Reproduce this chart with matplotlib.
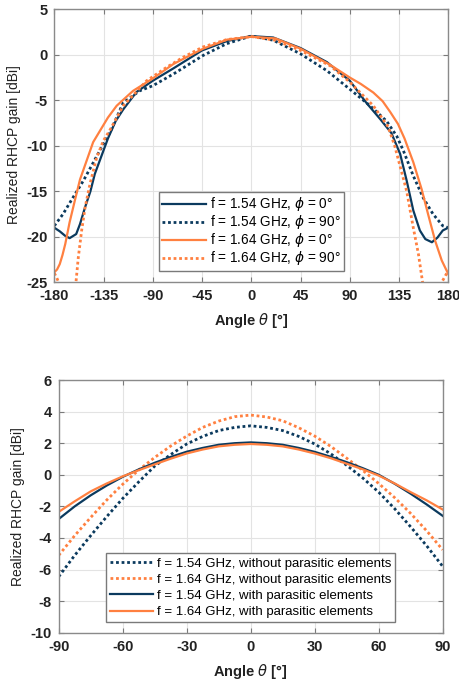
import matplotlib
matplotlib.use("Agg")
import matplotlib.pyplot as plt

plt.rcParams['font.family'] = ['Liberation Sans', 'DejaVu Sans']
plt.rcParams['mathtext.fontset'] = 'dejavusans'
plt.rcParams['axes.unicode_minus'] = False

NAVY = '#0b3a5e'
ORANGE = '#ff8040'

# ---------------- Top chart data ----------------
top_xticks = [-180, -135, -90, -45, 0, 45, 90, 135, 180]
top_yticks = [-25, -20, -15, -10, -5, 0, 5]

t1_theta = [-180, -175, -170, -166, -160, -156.5, -152, -147, -143, -135, -131, -124, -117, -105,
            -90, -71, -45, -22, 0, 20, 45, 69, 90, 105, 118, 128, 136, 142, 148, 154, 159, 165,
            170, 175, 180]
t1_gain = [-19.0, -19.4, -19.9, -20.15, -19.7, -18.6, -16.8, -15.0, -13.1, -10.5, -9.2, -7.3, -6.0,
           -4.1, -2.85, -1.48, 0.48, 1.52, 2.05, 1.9, 0.74, -0.8, -2.85, -5.26, -7.1, -8.6, -10.9,
           -13.85, -17.1, -19.3, -20.25, -20.6, -20.1, -19.3, -19.0]

t2_theta = [-180, -172, -163, -153.5, -144.4, -135.2, -129, -117, -102, -90, -71, -44, -22.5, 0,
            20, 45, 69, 90, 108.5, 123.7, 133, 139, 148, 157, 166, 175, 180]
t2_gain = [-18.8, -17.5, -15.7, -13.85, -11.85, -9.8, -8.5, -5.26, -3.96, -3.4, -2.1, -0.07, 1.22,
           2.07, 1.6, 0.1, -1.74, -3.78, -5.6, -7.3, -8.96, -10.55, -13.3, -15.7, -17.5, -18.8, -19.0]

t3_theta = [-180, -177.5, -175, -172.5, -170, -166, -161, -156.5, -150.5, -144.5, -139, -131, -123,
            -108, -90, -71, -44, -22, 0, 22, 45, 72, 90, 100, 111.5, 120, 127, 134, 140, 148,
            155.7, 161.7, 168, 174, 180]
t3_gain = [-23.9, -23.6, -23.0, -22.0, -20.8, -18.4, -15.9, -13.7, -11.65, -9.6, -8.5, -6.9, -5.6,
           -3.96, -2.6, -1.0, 0.67, 1.67, 1.98, 1.8, 0.67, -1.1, -2.5, -3.2, -4.15, -5.1, -6.3,
           -7.6, -9.2, -11.8, -14.8, -17.6, -20.45, -22.6, -24.1]

t4_theta = [-180, -177.8, -175, -170, -165, -162, -160.2, -158.1, -155, -151.9, -147.4, -141.3,
            -135.2, -129.1, -117, -95.6, -77.3, -62.1, -44.4, -22.5, 0, 22, 45, 72, 90, 111.5,
            125, 131, 136.5, 142, 148, 152.7, 156.5, 160, 168, 174, 180]
t4_gain = [-24.0, -24.5, -25.3, -27.0, -27.5, -26.0, -25.0, -22.3, -19.3, -16.8, -14.2, -11.3,
           -9.45, -8.26, -5.6, -2.85, -1.37, -0.26, 0.85, 1.67, 2.0, 1.6, 0.48, -1.2, -3.0, -5.6,
           -7.9, -10.0, -12.5, -15.0, -19.0, -21.9, -25.0, -27.5, -27.0, -25.0, -23.7]

top_labels = [r'f = 1.54 GHz, $\phi$ = 0°', r'f = 1.54 GHz, $\phi$ = 90°',
              r'f = 1.64 GHz, $\phi$ = 0°', r'f = 1.64 GHz, $\phi$ = 90°']

# ---------------- Bottom chart data ----------------
bot_xticks = [-90, -60, -30, 0, 30, 60, 90]
bot_yticks = [-10, -8, -6, -4, -2, 0, 2, 4, 6]

b_theta = [-90, -82.5, -75, -67.5, -60, -52.5, -45, -37.5, -30, -22.5, -15, -7.5, 0,
           7.5, 15, 22.5, 30, 37.5, 45, 52.5, 60, 67.5, 75, 82.5, 90]
b1_gain = [-6.45, -5.1, -3.85, -2.65, -1.5, -0.45, 0.55, 1.28, 1.95, 2.43, 2.8, 3.0, 3.1,
           3.0, 2.8, 2.43, 1.95, 1.33, 0.6, -0.2, -1.1, -2.15, -3.3, -4.5, -5.8]
b2_gain = [-5.1, -3.85, -2.7, -1.6, -0.6, 0.3, 1.1, 1.82, 2.45, 3.0, 3.4, 3.68, 3.78,
           3.66, 3.42, 2.98, 2.45, 1.8, 1.05, 0.28, -0.55, -1.45, -2.45, -3.55, -4.75]
b3_gain = [-2.8, -2.0, -1.3, -0.68, -0.13, 0.34, 0.76, 1.13, 1.46, 1.7, 1.9, 2.0, 2.05,
           2.0, 1.9, 1.7, 1.45, 1.14, 0.8, 0.42, 0.0, -0.57, -1.2, -1.88, -2.6]
b4_gain = [-2.35, -1.68, -1.05, -0.55, -0.1, 0.29, 0.66, 1.02, 1.35, 1.6, 1.8, 1.9, 1.95,
           1.9, 1.8, 1.6, 1.35, 1.05, 0.7, 0.35, -0.05, -0.55, -1.1, -1.62, -2.2]

bot_labels = ['f = 1.54 GHz, without parasitic elements', 'f = 1.64 GHz, without parasitic elements',
              'f = 1.54 GHz, with parasitic elements', 'f = 1.64 GHz, with parasitic elements']

DOT = (0, (1, 1))
LW_SOLID = 1.6
LW_DOT = 2.0

fig = plt.figure(figsize=(4.59, 6.83), dpi=100)
ax1 = fig.add_axes([0.1183, 0.5867, 0.8584, 0.3997])
ax2 = fig.add_axes([0.1279, 0.0736, 0.8366, 0.3700])


def style(ax, xticks, yticks):
    ax.set_xticks(xticks)
    ax.set_yticks(yticks)
    ax.set_xlim(xticks[0], xticks[-1])
    ax.set_ylim(yticks[0], yticks[-1])
    ax.grid(True, color='#e3e3e3', linewidth=0.8)
    ax.set_axisbelow(True)
    ax.tick_params(direction='in', top=True, right=True, length=3.5, width=0.8,
                   color='#7a7a7a', labelsize=10.5, pad=5)
    for lab in ax.get_xticklabels() + ax.get_yticklabels():
        lab.set_fontweight('bold')
        lab.set_color('#222222')
    for s in ax.spines.values():
        s.set_color('#8a8a8a')
        s.set_linewidth(1.0)
    ax.set_xlabel(r'Angle $\theta$ [°]', fontsize=10.5, fontweight='bold', color='#222222')
    ax.set_ylabel('Realized RHCP gain [dBi]', fontsize=10, color='#222222')


# Top
ax1.plot(t1_theta, t1_gain, color=NAVY, lw=LW_SOLID, label=top_labels[0])
ax1.plot(t2_theta, t2_gain, color=NAVY, lw=LW_DOT, ls=DOT, label=top_labels[1])
ax1.plot(t3_theta, t3_gain, color=ORANGE, lw=LW_SOLID, label=top_labels[2])
ax1.plot(t4_theta, t4_gain, color=ORANGE, lw=LW_DOT, ls=DOT, label=top_labels[3])
style(ax1, top_xticks, top_yticks)
ax1.xaxis.set_label_coords(0.5, -0.105)
ax1.yaxis.set_label_coords(-0.085, 0.503)
leg1 = ax1.legend(loc='lower center', bbox_to_anchor=(0.5, 0.042), fontsize=9.8, frameon=True,
                  fancybox=False, framealpha=1, edgecolor='#7a7a7a', handlelength=3.2,
                  handletextpad=0.3, borderpad=0.25, labelspacing=0.0, borderaxespad=0)
leg1.get_frame().set_linewidth(1.0)

# Bottom
ax2.plot(b_theta, b1_gain, color=NAVY, lw=LW_DOT, ls=DOT, label=bot_labels[0])
ax2.plot(b_theta, b2_gain, color=ORANGE, lw=LW_DOT, ls=DOT, label=bot_labels[1])
ax2.plot(b_theta, b3_gain, color=NAVY, lw=LW_SOLID, label=bot_labels[2])
ax2.plot(b_theta, b4_gain, color=ORANGE, lw=LW_SOLID, label=bot_labels[3])
style(ax2, bot_xticks, bot_yticks)
ax2.xaxis.set_label_coords(0.5, -0.116)
ax2.yaxis.set_label_coords(-0.088, 0.499)
leg2 = ax2.legend(loc='lower center', bbox_to_anchor=(0.5, 0.042), fontsize=9.5, frameon=True,
                  fancybox=False, framealpha=1, edgecolor='#7a7a7a', handlelength=3.2,
                  handletextpad=0.3, borderpad=0.3, labelspacing=0.3, borderaxespad=0)
leg2.get_frame().set_linewidth(1.0)

fig.savefig('out.png', dpi=100)
